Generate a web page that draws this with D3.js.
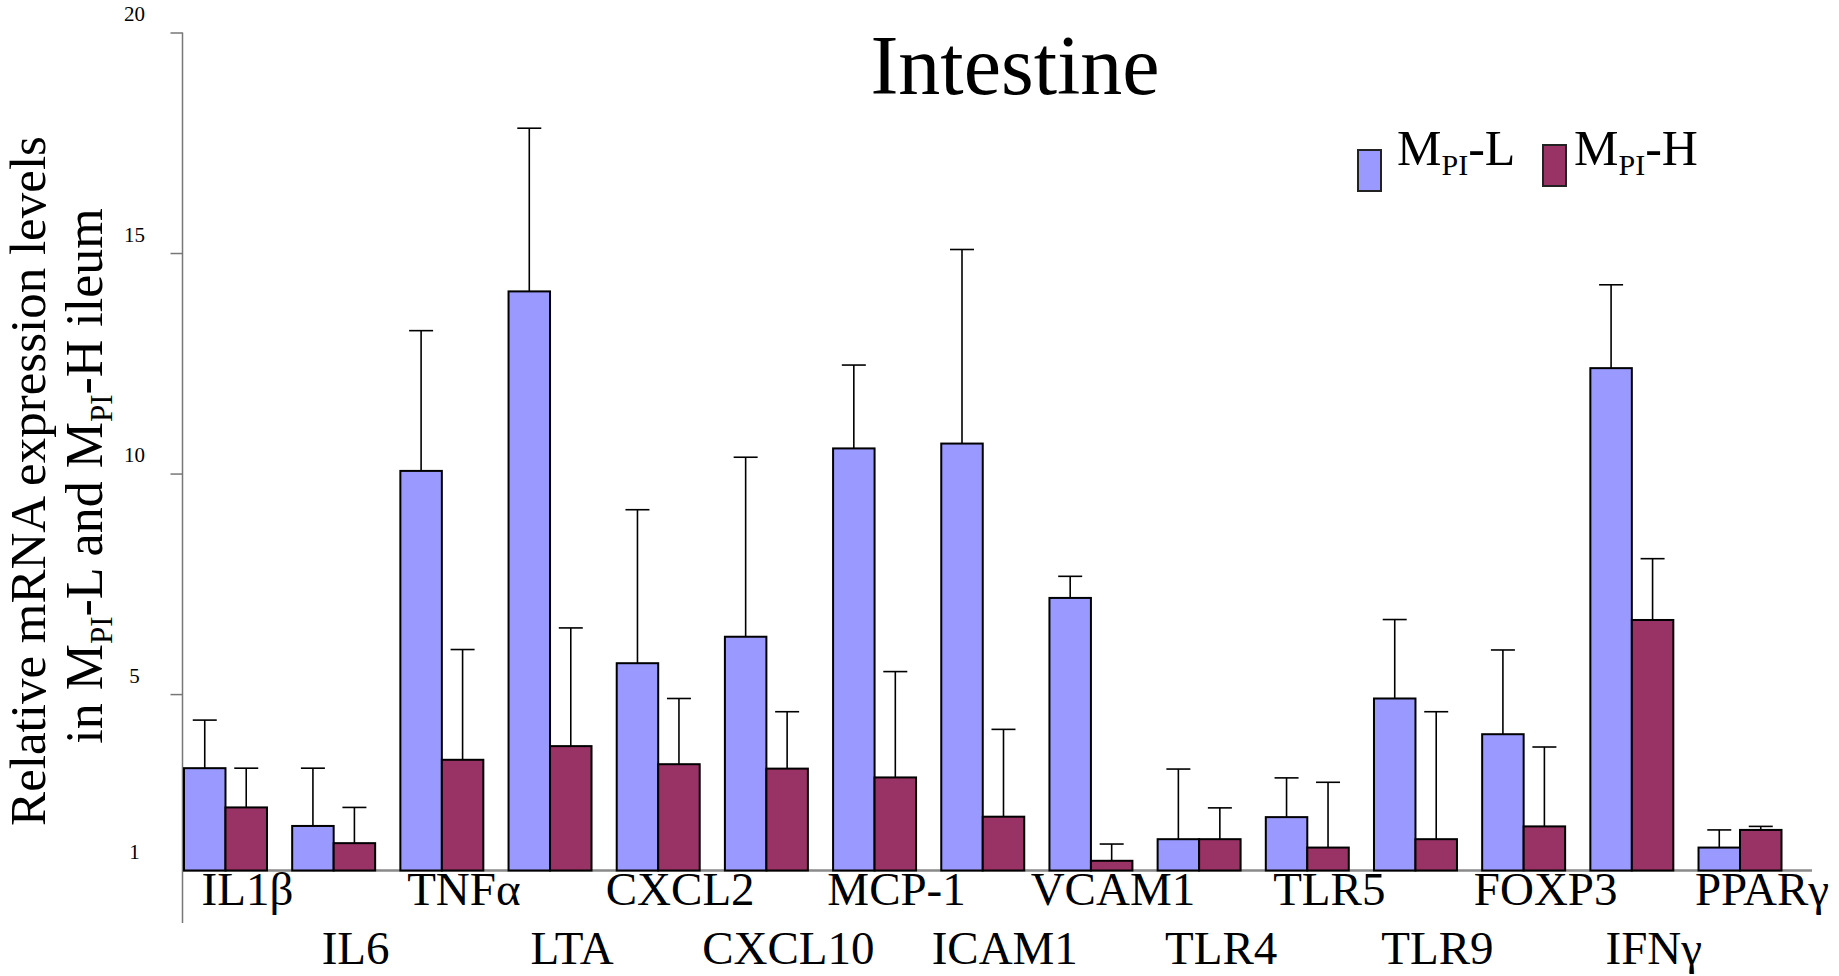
<!DOCTYPE html>
<html>
<head>
<meta charset="utf-8">
<script src="https://cdn.jsdelivr.net/npm/d3@7"></script>
<style>
    body { margin: 0; background: #fff; }
    svg text { font-family: "Liberation Serif", "Times New Roman", serif; fill: #000; }
    .bar { stroke: #000; stroke-width: 2; }
    .err { stroke: #000; stroke-width: 1.6; }
</style>
</head>
<body>
<div id="chart"></div>
<script>
// Genes on the x axis
const genes = ["IL1β", "IL6", "TNFα", "LTA", "CXCL2", "CXCL10", "MCP-1", "ICAM1",
    "VCAM1", "TLR4", "TLR5", "TLR9", "FOXP3", "IFNγ", "PPARγ"];

// Mean relative expression, MPI-L group
const lowMean = [3.32, 2.01, 10.06, 14.13, 5.70, 6.30, 10.57, 10.68, 7.18, 1.71, 2.21, 4.90, 4.09, 12.39, 1.52];
const lowErr = [1.09, 1.31, 3.18, 3.70, 3.48, 4.07, 1.89, 4.40, 0.49, 1.59, 0.89, 1.79, 1.91, 1.89, 0.40];

// Mean relative expression, MPI-H group
const highMean = [2.43, 1.62, 3.51, 3.82, 3.41, 3.31, 3.11, 2.22, 1.22, 1.71, 1.52, 1.71, 2.00, 6.68, 1.92];
const highErr = [0.89, 0.81, 2.50, 2.68, 1.49, 1.29, 2.40, 1.98, 0.38, 0.71, 1.48, 2.89, 1.80, 1.39, 0.08];

const seriesKeys = ["L", "H"];
const seriesColors = {L: "#9999ff", H: "#993366"};
const yTicks = [1, 5, 10, 15, 20];

const W = 1839, H = 976;

const data = genes.map((g, i) => ({
    gene: g,
    values: [
        {key: "L", mean: lowMean[i], err: lowErr[i]},
        {key: "H", mean: highMean[i], err: highErr[i]}
    ]
}));

const svg = d3.select("#chart").append("svg")
    .attr("width", W)
    .attr("height", H);

// Scales
const axisX = 182.5;
const x0 = d3.scaleBand()
    .domain(genes)
    .range([184, 1781.5])
    .paddingInner(0.233)
    .paddingOuter(0);

const x1 = d3.scaleBand()
    .domain(seriesKeys)
    .range([0, x0.bandwidth()]);

const y = d3.scaleLinear()
    .domain([1, 20])
    .range([870.5, 32.5]);

// Baseline
svg.append("line")
    .attr("x1", axisX)
    .attr("x2", 1812)
    .attr("y1", y(1))
    .attr("y2", y(1))
    .style("stroke", "#8a8a8a")
    .style("stroke-width", 2.5);

// Y axis
const yAxis = svg.append("g")
    .attr("transform", `translate(${axisX},0)`)
    .call(d3.axisLeft(y).tickValues(yTicks).tickSize(12).tickFormat(d3.format("d")));

yAxis.select(".domain").remove();
yAxis.selectAll(".tick line")
    .style("stroke", "#777")
    .style("stroke-width", 1.5)
    .style("opacity", d => d === 1 ? 0 : 1);
yAxis.selectAll(".tick text")
    .attr("x", -48)
    .attr("dy", -12)
    .attr("text-anchor", "middle")
    .style("font-family", "'Liberation Serif', serif")
    .style("font-size", "21px");

svg.append("line")
    .attr("x1", axisX)
    .attr("x2", axisX)
    .attr("y1", y(20))
    .attr("y2", 923)
    .style("stroke", "#777")
    .style("stroke-width", 1.5);

// Bars
const groups = svg.selectAll(".group")
    .data(data)
    .enter().append("g")
    .attr("class", "group")
    .attr("transform", d => `translate(${x0(d.gene)},0)`);

// Error bars (drawn first so the bar outline sits on top)
groups.selectAll(".err-line")
    .data(d => d.values)
    .enter().append("line")
    .attr("class", "err")
    .attr("x1", d => x1(d.key) + x1.bandwidth() / 2)
    .attr("x2", d => x1(d.key) + x1.bandwidth() / 2)
    .attr("y1", d => y(d.mean))
    .attr("y2", d => y(d.mean + d.err));

groups.selectAll(".err-cap")
    .data(d => d.values)
    .enter().append("line")
    .attr("class", "err")
    .attr("x1", d => x1(d.key) + x1.bandwidth() / 2 - 12)
    .attr("x2", d => x1(d.key) + x1.bandwidth() / 2 + 12)
    .attr("y1", d => y(d.mean + d.err))
    .attr("y2", d => y(d.mean + d.err));

groups.selectAll("rect")
    .data(d => d.values)
    .enter().append("rect")
    .attr("class", "bar")
    .attr("x", d => x1(d.key))
    .attr("width", x1.bandwidth())
    .attr("y", d => y(d.mean))
    .attr("height", d => y(1) - y(d.mean))
    .style("fill", d => seriesColors[d.key]);

// Gene labels, alternating two rows
svg.selectAll(".gene-label")
    .data(genes)
    .enter().append("text")
    .attr("class", "gene-label")
    .attr("x", d => x0(d) + x0.bandwidth() / 2 + 22)
    .attr("y", (d, i) => i % 2 === 0 ? 905 : 964)
    .attr("text-anchor", "middle")
    .style("font-size", "47px")
    .text(d => d);

// Title
svg.append("text")
    .attr("x", 1015)
    .attr("y", 94)
    .attr("text-anchor", "middle")
    .style("font-size", "84px")
    .text("Intestine");

// Y axis label (two lines, with subscripts)
svg.append("text")
    .attr("transform", "translate(45,481) rotate(-90)")
    .attr("text-anchor", "middle")
    .style("font-size", "51px")
    .text("Relative mRNA expression levels");

const yLab2 = svg.append("text")
    .attr("transform", "translate(102,476) rotate(-90)")
    .attr("text-anchor", "middle")
    .style("font-size", "52px");

const lab2Parts = [["in M", false], ["PI", true], ["-L and M", false], ["PI", true], ["-H ileum", false]];
let shifted = false;
lab2Parts.forEach(([t, sub]) => {
    const ts = yLab2.append("tspan").text(t);
    if (sub) {
        ts.attr("dy", 10).style("font-size", "31px");
        shifted = true;
    } else if (shifted) {
        ts.attr("dy", -10);
        shifted = false;
    }
});

// Legend
const legendPos = {L: {sx: 1358, sy: 150, tx: 1397}, H: {sx: 1543, sy: 145, tx: 1574}};
const legendSuffix = {L: "-L", H: "-H"};

seriesKeys.forEach(k => {
    const p = legendPos[k];
    svg.append("rect")
        .attr("x", p.sx)
        .attr("y", p.sy)
        .attr("width", 23)
        .attr("height", 41)
        .style("fill", seriesColors[k])
        .style("stroke", "#222")
        .style("stroke-width", 2);

    const t = svg.append("text")
        .attr("x", p.tx)
        .attr("y", 165)
        .style("font-size", "50px");
    t.append("tspan").text("M");
    t.append("tspan").attr("dy", 10).style("font-size", "30px").text("PI");
    t.append("tspan").attr("dy", -10).text(legendSuffix[k]);
});
</script>
</body>
</html>
